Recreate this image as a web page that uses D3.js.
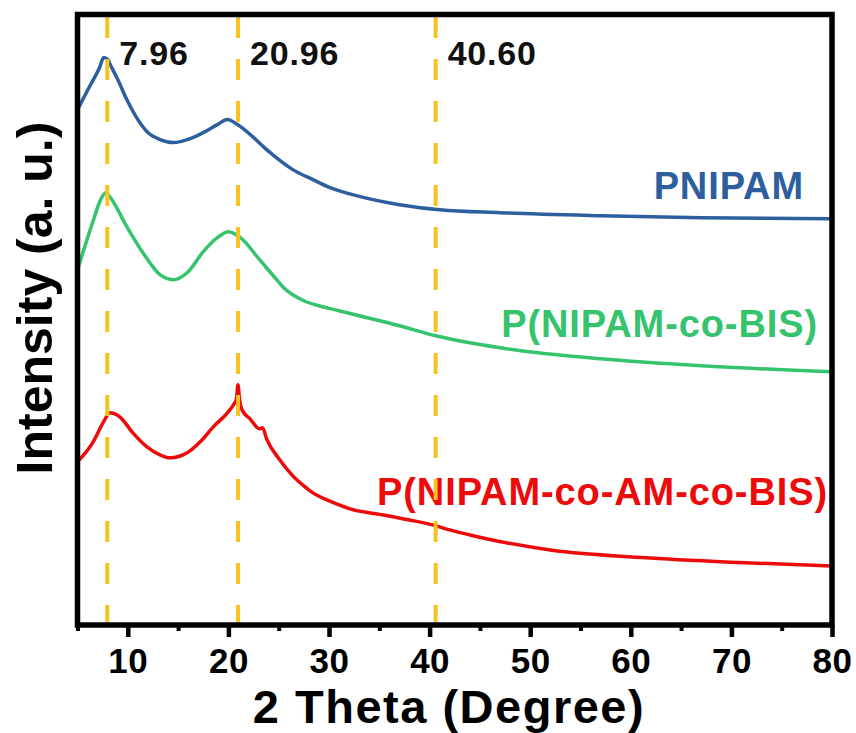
<!DOCTYPE html>
<html>
<head>
<meta charset="utf-8">
<script src="https://cdn.jsdelivr.net/npm/d3@7/dist/d3.min.js"></script>
<style>
  html, body { margin: 0; padding: 0; background: #fff; }
  svg { display: block; font-family: "Liberation Sans", Arial, sans-serif; font-weight: bold; }
</style>
</head>
<body>
<svg id="chart" width="856" height="733"></svg>
<script>
// XRD patterns, 2θ in degrees, intensity in arbitrary units (curves stacked with offsets)
const pnipamTheta = [5.0, 6.2, 7.2, 7.6, 8.0, 8.3, 9.0, 9.9, 11.0, 12.0, 13.2, 14.5, 16.2, 17.5, 18.9, 19.9, 20.9, 22.4, 23.8, 25.4, 26.4, 28.4, 30.1, 33.1, 37.0, 41.0, 47.0, 57.0, 67.0, 80.0];
const pnipamI     = [515, 538, 557, 567, 565, 559, 545, 525, 505, 492, 485, 482, 486, 492, 500, 505, 500, 488, 475, 462, 455, 445, 437, 428, 420, 415, 412, 409, 407, 406];

const bisTheta = [5.0, 6.5, 7.3, 7.8, 8.2, 9.9, 11.5, 13.2, 14.5, 15.9, 17.5, 18.9, 20.0, 21.2, 23.1, 24.8, 25.6, 26.4, 27.5, 29.0, 31.0, 33.0, 37.0, 40.6, 47.0, 57.0, 67.0, 80.0];
const bisI     = [355, 402, 425, 432, 428, 398, 372, 350, 345, 352, 373, 387, 393, 387, 365, 345, 336, 330, 324, 319, 314, 309, 299, 289, 277, 266, 259, 253];

const amTheta = [5.0, 6.5, 7.7, 8.2, 9.2, 10.5, 11.9, 13.2, 14.2, 15.9, 17.2, 18.5, 19.9, 20.5, 20.8, 20.95, 21.1, 21.35, 22.15, 23.1, 23.4, 23.8, 25.1, 26.4, 27.5, 28.4, 29.8, 31.0, 32.1, 35.4, 38.0, 40.3, 42.0, 44.0, 46.7, 52.0, 61.9, 71.9, 80.0];
const amI     = [163, 182, 205, 212, 208, 192, 178, 170, 167, 172, 183, 198, 212, 220, 226, 240, 226, 215, 206, 196, 197, 186, 165, 149, 139, 132, 125, 120, 116, 110, 105, 100, 95, 90, 84, 75, 67, 62, 59];

const seriesNames = ["PNIPAM", "P(NIPAM-co-BIS)", "P(NIPAM-co-AM-co-BIS)"];
const peakPositions = [7.96, 20.96, 40.60];
const peakLabels = ["7.96", "20.96", "40.60"];
const majorTicks = [10, 20, 30, 40, 50, 60, 70, 80];
const minorTicks = [5, 15, 25, 35, 45, 55, 65, 75];

const colors = ["#2D5E9E", "#36C36D", "#EC0A0A"];
const dashColor = "#F9C21E";

const svg = d3.select("#chart");
const plotLeft = 77.5, plotRight = 832, plotTop = 14.5, plotBottom = 625;

const x = d3.scaleLinear().domain([5, 80]).range([plotLeft, plotRight]);
const y = d3.scaleLinear().domain([0, 610]).range([plotBottom, plotTop]);

const series = [
  { name: seriesNames[0], theta: pnipamTheta, I: pnipamI, color: colors[0] },
  { name: seriesNames[1], theta: bisTheta, I: bisI, color: colors[1] },
  { name: seriesNames[2], theta: amTheta, I: amI, color: colors[2] }
];

// curves
const line = d3.line()
  .x(d => x(d[0]))
  .y(d => y(d[1]))
  .curve(d3.curveMonotoneX);

svg.append("g").selectAll("path")
  .data(series)
  .join("path")
  .attr("d", s => line(s.theta.map((t, i) => [t, s.I[i]])))
  .attr("fill", "none")
  .attr("stroke", s => s.color)
  .attr("stroke-width", 3.5)
  .attr("stroke-linejoin", "round");

// series labels
const labelPos = [
  { xr: 804, yb: 199 },
  { xr: 818, yb: 337 },
  { xr: 828, yb: 505 }
];
svg.append("g").selectAll("text")
  .data(series)
  .join("text")
  .attr("x", (s, i) => labelPos[i].xr)
  .attr("y", (s, i) => labelPos[i].yb)
  .attr("text-anchor", "end")
  .attr("font-size", 38)
  .attr("letter-spacing", "0.9px")
  .attr("fill", s => s.color)
  .text(s => s.name);

// peak markers
svg.append("g").selectAll("line")
  .data(peakPositions)
  .join("line")
  .attr("x1", d => x(d)).attr("x2", d => x(d))
  .attr("y1", 17).attr("y2", 622)
  .attr("stroke", dashColor)
  .attr("stroke-width", 4)
  .attr("stroke-dasharray", "21,21");

svg.append("g").selectAll("text")
  .data(peakPositions)
  .join("text")
  .attr("x", d => x(d) + 12)
  .attr("y", 65)
  .attr("font-size", 34)
  .attr("letter-spacing", "0.8px")
  .attr("fill", "#111")
  .text((d, i) => peakLabels[i]);

// x axis
const axisMajor = d3.axisBottom(x).tickValues(majorTicks).tickSize(12).tickFormat(d3.format("d"));
const gx = svg.append("g").attr("transform", `translate(0,${plotBottom})`).call(axisMajor);
gx.select(".domain").remove();
gx.selectAll(".tick line").attr("stroke", "#000").attr("stroke-width", 4.5);
gx.selectAll(".tick text")
  .attr("y", 48)
  .attr("dy", null)
  .attr("font-size", 35)
  .attr("letter-spacing", "0.5px")
  .attr("font-family", "'Liberation Sans', Arial, sans-serif")
  .attr("font-weight", "bold")
  .attr("fill", "#000");

const axisMinor = d3.axisBottom(x).tickValues(minorTicks).tickSize(6).tickFormat("");
const gm = svg.append("g").attr("transform", `translate(0,${plotBottom})`).call(axisMinor);
gm.select(".domain").remove();
gm.selectAll(".tick line").attr("stroke", "#000").attr("stroke-width", 4);

// frame
svg.append("rect")
  .attr("x", plotLeft).attr("y", plotTop)
  .attr("width", plotRight - plotLeft).attr("height", plotBottom - plotTop)
  .attr("fill", "none")
  .attr("stroke", "#000")
  .attr("stroke-width", 5.5);

// axis titles
svg.append("text")
  .attr("x", 449).attr("y", 722.5)
  .attr("text-anchor", "middle")
  .attr("font-size", 47)
  .attr("letter-spacing", "1.5px")
  .attr("fill", "#000")
  .text("2 Theta (Degree)");

svg.append("text")
  .attr("transform", "translate(52,298) rotate(-90)")
  .attr("text-anchor", "middle")
  .attr("font-size", 50)
  .attr("fill", "#000")
  .text("Intensity (a. u.)");
</script>
</body>
</html>
